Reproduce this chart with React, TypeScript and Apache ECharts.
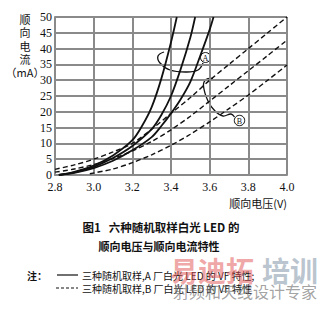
import React, { useEffect, useRef } from "react";
import * as echarts from "echarts";

// Forward voltage (V) vs forward current (mA)
const solidA1 = [[2.82, 0], [2.9, 1], [3.0, 3], [3.1, 6.2], [3.2, 11], [3.25, 15.5], [3.3, 21.5], [3.35, 30.5], [3.4, 42], [3.43, 50]];
const solidA2 = [[2.82, 0], [2.9, 0.8], [3.0, 2.6], [3.1, 5.4], [3.2, 9.2], [3.3, 14.5], [3.35, 19], [3.4, 25], [3.45, 33.5], [3.5, 43.5], [3.525, 50]];
const solidA3 = [[2.82, 0], [2.9, 0.7], [3.0, 2.2], [3.1, 4.5], [3.2, 7.8], [3.3, 12], [3.35, 15.5], [3.4, 19.5], [3.45, 24], [3.5, 29.5], [3.55, 37.5], [3.6, 46], [3.62, 50]];
const dashedB1 = [[2.8, 1.8], [2.9, 3.2], [3.0, 5], [3.1, 7.3], [3.2, 10], [3.3, 14.5], [3.4, 19.5], [3.5, 24.5], [3.6, 30], [3.7, 35], [3.8, 40], [3.9, 45], [4.0, 50]];
const dashedB2 = [[2.8, 0.9], [2.9, 1.9], [3.0, 3.3], [3.1, 5.2], [3.2, 7.6], [3.3, 10.6], [3.4, 14.3], [3.5, 18.6], [3.6, 23.4], [3.7, 28.2], [3.8, 33], [3.9, 37.8], [4.0, 42.7]];
const dashedB3 = [[2.98, 0.4], [3.1, 1.9], [3.2, 3.9], [3.3, 6.4], [3.4, 9.4], [3.5, 12.9], [3.6, 16.8], [3.7, 21], [3.8, 25.3], [3.9, 30], [4.0, 34.8]];

const xName = "顺向电压(V)";
const yNameLines = ["顺", "向", "电", "流", "（mA）"];
const caption1 = "图1   六种随机取样白光 LED 的";
const caption2 = "顺向电压与顺向电流特性";
const noteLabel = "注：";
const noteA = "三种随机取样,A 厂白光 LED 的 VF 特性;";
const noteB = "三种随机取样,B 厂白光 LED 的 VF 特性";

const CJK = '"Noto Sans CJK SC", sans-serif';
const SERIF = '"Liberation Serif", "DejaVu Serif", serif';

export default function App() {
  const ref = useRef<HTMLDivElement>(null);
  useEffect(() => {
    if (!ref.current) return;
    const chart = echarts.init(ref.current, undefined, { renderer: "svg" });
    const gridColor = "#8a8a8a";
    const solid = (data: number[][]) => ({
      type: "line", data, smooth: 0.3, symbol: "none",
      lineStyle: { color: "#111", width: 1.8 }, z: 3,
    });
    const dashed = (data: number[][]) => ({
      type: "line", data, smooth: 0.3, symbol: "none",
      lineStyle: { color: "#111", width: 1.4, type: [5, 3] }, z: 3,
    });
    chart.setOption({
      animation: false,
      backgroundColor: "#fff",
      grid: { left: 55, top: 17, width: 232, height: 158 },
      xAxis: {
        type: "value", min: 2.8, max: 4.0, interval: 0.2,
        axisLine: { show: true, lineStyle: { color: gridColor, width: 2 } },
        axisTick: { show: false },
        splitLine: { show: true, lineStyle: { color: gridColor, width: 2 } },
        axisLabel: {
          formatter: (v: number) => v.toFixed(1), color: "#111",
          fontFamily: SERIF, fontSize: 12, margin: 6,
        },
      },
      yAxis: {
        type: "value", min: 0, max: 50, interval: 5,
        axisLine: { show: true, lineStyle: { color: gridColor, width: 2 } },
        axisTick: { show: false },
        splitLine: { show: true, lineStyle: { color: gridColor, width: 2 } },
        axisLabel: { color: "#111", fontFamily: SERIF, fontSize: 12, margin: 3 },
      },
      series: [
        solid(solidA1), solid(solidA2), solid(solidA3),
        dashed(dashedB1), dashed(dashedB2), dashed(dashedB3),
      ],
      graphic: [
        ...yNameLines.map((t, i) => ({
          type: "text", x: 25, y: 19 + i * 13.3,
          style: { text: t, font: `11px ${CJK}`, fill: "#111", textAlign: "center", textVerticalAlign: "middle" },
        })),
        {
          type: "text", x: 287, y: 203,
          style: { text: xName, font: `11px ${CJK}`, fill: "#111", textAlign: "right", textVerticalAlign: "middle" },
        },
        // callout A
        {
          type: "polyline", shape: { points: [[164, 52], [158, 56], [160, 63], [170, 70], [186, 72], [198, 70], [203, 63]], smooth: 0.4 },
          style: { stroke: "#111", lineWidth: 1.3, fill: "none" },
        },
        { type: "circle", shape: { cx: 205.5, cy: 57.5, r: 5 }, style: { stroke: "#111", lineWidth: 1, fill: "#fff" } },
        { type: "text", x: 205.5, y: 58, style: { text: "A", font: `8px ${SERIF}`, fill: "#111", textAlign: "center", textVerticalAlign: "middle" } },
        // callout B
        {
          type: "polyline", shape: { points: [[213, 78.5], [206, 79.5], [203.5, 86], [208, 101], [215, 111], [223, 116], [231, 114], [234.5, 117]], smooth: 0.4 },
          style: { stroke: "#111", lineWidth: 1.3, fill: "none" },
        },
        { type: "circle", shape: { cx: 239.5, cy: 120.5, r: 5.2 }, style: { stroke: "#111", lineWidth: 1, fill: "#fff" } },
        { type: "text", x: 239.5, y: 121, style: { text: "B", font: `8px ${SERIF}`, fill: "#111", textAlign: "center", textVerticalAlign: "middle" } },
        // caption
        {
          type: "text", x: 161, y: 227,
          style: { text: caption1, font: `bold 11.5px ${CJK}`, fill: "#111", textAlign: "center", textVerticalAlign: "middle" },
        },
        {
          type: "text", x: 159, y: 246,
          style: { text: caption2, font: `bold 11px ${CJK}`, fill: "#111", textAlign: "center", textVerticalAlign: "middle" },
        },
        // watermark
        {
          type: "text", x: 170, y: 270, z: 10,
          style: { text: "易迪拓", font: `bold 28px ${CJK}`, fill: "rgba(225,80,80,0.5)", textAlign: "left", textVerticalAlign: "middle" },
        },
        {
          type: "text", x: 318, y: 270, z: 10,
          style: { text: "培训", font: `bold 28px ${CJK}`, fill: "rgba(120,140,160,0.5)", textAlign: "right", textVerticalAlign: "middle" },
        },
        {
          type: "text", x: 245, y: 291, z: 10,
          style: { text: "射频和天线设计专家", font: `16px ${CJK}`, fill: "rgba(110,110,110,0.65)", textAlign: "center", textVerticalAlign: "middle" },
        },
        // notes
        {
          type: "text", x: 27, y: 275,
          style: { text: noteLabel, font: `bold 10px ${CJK}`, fill: "#111", textAlign: "left", textVerticalAlign: "middle" },
        },
        { type: "line", shape: { x1: 57, y1: 275, x2: 78, y2: 275 }, style: { stroke: "#111", lineWidth: 1.2 } },
        {
          type: "text", x: 82, y: 275,
          style: { text: noteA, font: `10px ${CJK}`, fill: "#111", textAlign: "left", textVerticalAlign: "middle" },
        },
        { type: "line", shape: { x1: 56, y1: 288, x2: 78, y2: 288 }, style: { stroke: "#111", lineWidth: 1.2, lineDash: [3, 2] } },
        {
          type: "text", x: 82, y: 288,
          style: { text: noteB, font: `10px ${CJK}`, fill: "#111", textAlign: "left", textVerticalAlign: "middle" },
        },
      ],
    });
    return () => chart.dispose();
  }, []);
  return (
    <div
      ref={ref}
      style={{ position: "absolute", left: 0, top: 0, width: 324, height: 309, background: "#fff" }}
    />
  );
}
